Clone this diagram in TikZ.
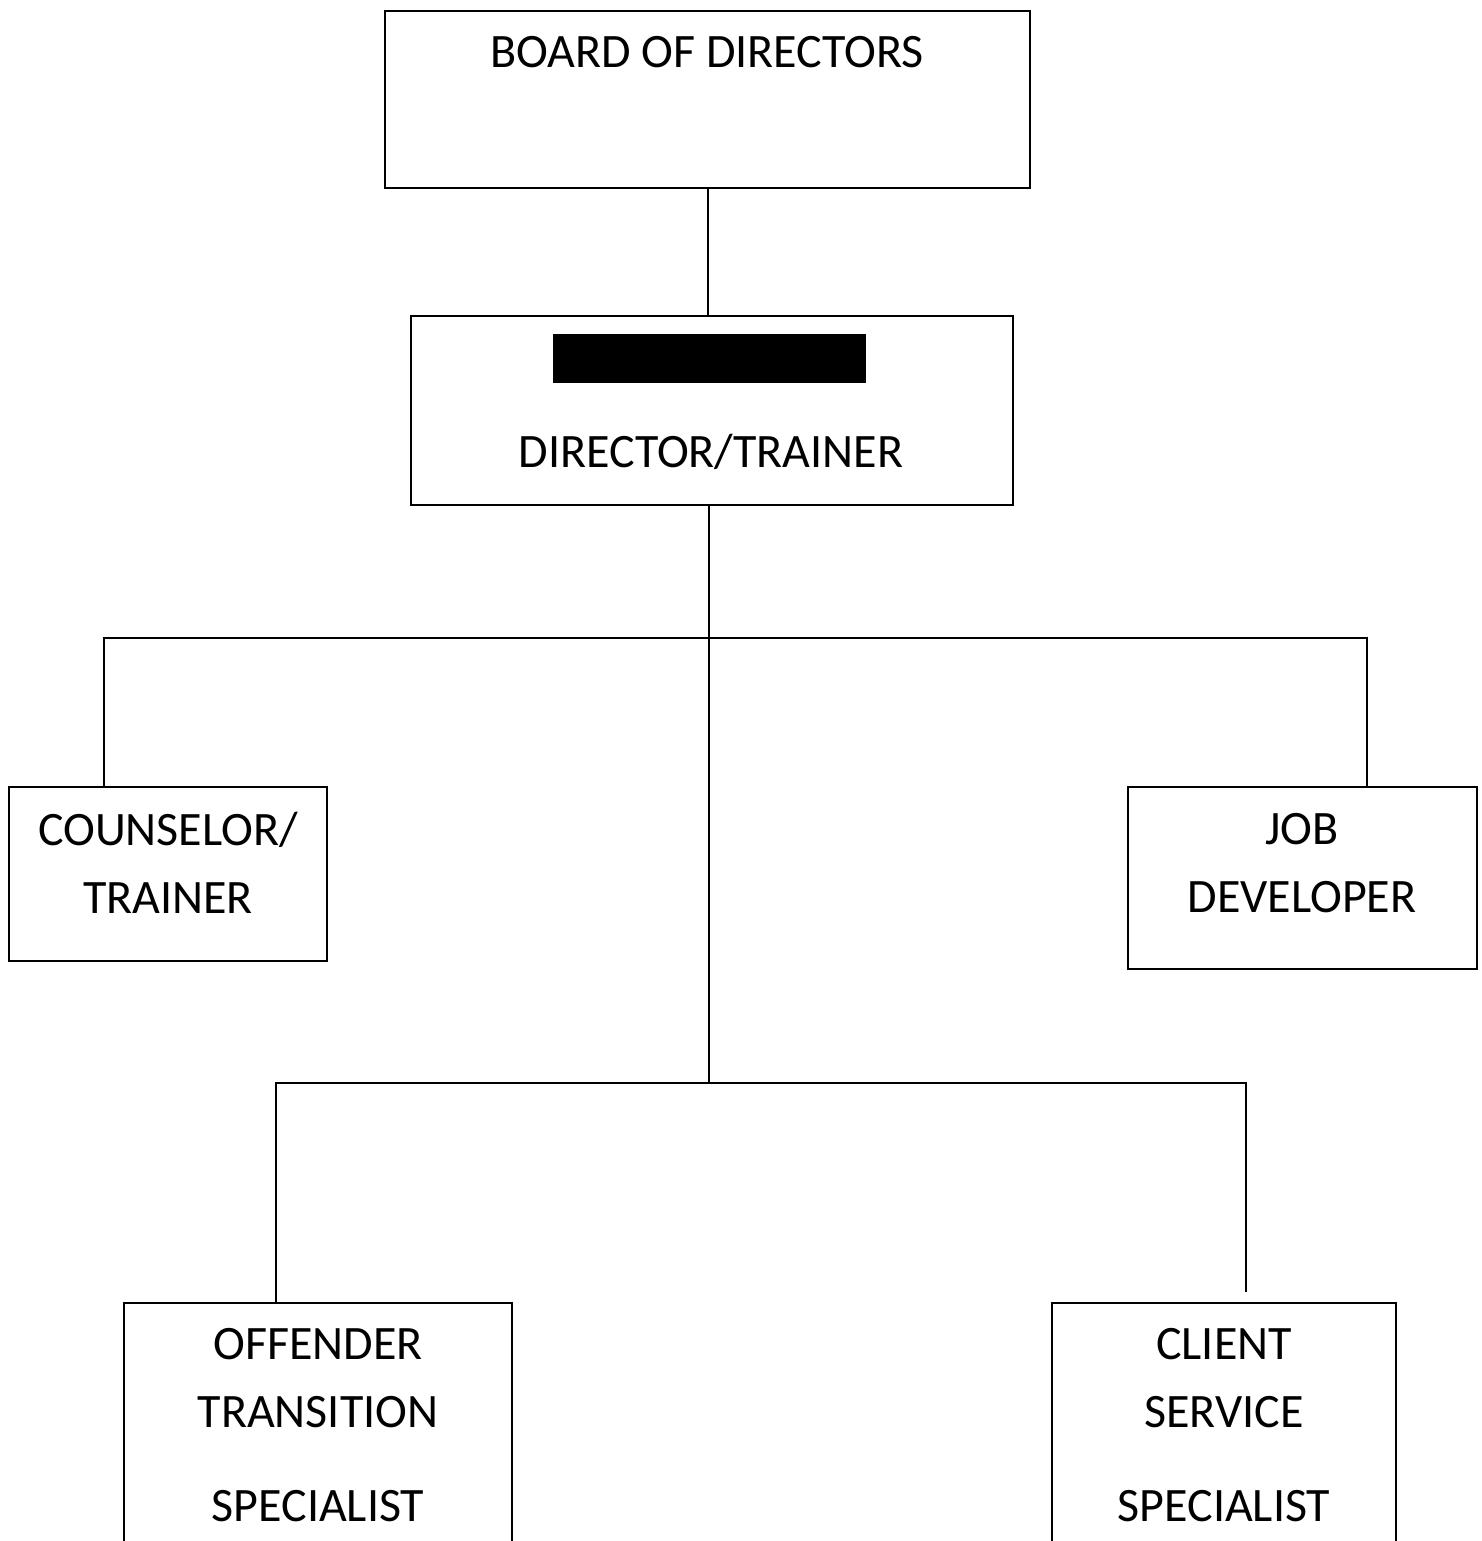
\documentclass[tikz,border=0pt]{standalone}
\usepackage{fontspec}
\setmainfont{Carlito}
\begin{document}
\begin{tikzpicture}[x=1pt,y=-1pt,
  box/.style={draw, rectangle, inner sep=0pt, line width=1.8pt},
  openbox/.style={rectangle, inner sep=0pt},
  lbl/.style={font=\fontsize{48}{68}\selectfont, align=center, inner sep=0pt},
  conn/.style={line width=1.5pt}]
\useasboundingbox (0,0) rectangle (1481,1541);
% boxes
\node[box, minimum width=645pt, minimum height=177pt] (board) at (707.5,99.5) {};
\node[lbl] (boardtxt) at (707,52) {BOARD OF DIRECTORS};
\node[box, minimum width=602pt, minimum height=189pt] (director) at (712,410.5) {};
\node[fill=black, inner sep=0pt, minimum width=313pt, minimum height=49pt] (redact) at (709.5,358.5) {};
\node[lbl] (directortxt) at (711,452) {DIRECTOR/TRAINER};
\node[box, minimum width=318pt, minimum height=174pt] (counselor) at (168,874) {};
\node[lbl] (counselortxt) at (168,863) {COUNSELOR/\\TRAINER};
\node[box, minimum width=349pt, minimum height=182pt] (job) at (1302.5,878) {};
\node[lbl] (jobtxt) at (1302,863) {JOB\\DEVELOPER};
\node[openbox, minimum width=388pt, minimum height=238pt] (offender) at (318,1422) {};
\draw[line width=1.8pt] (offender.south west) -- (offender.north west) -- (offender.north east) -- (offender.south east);
\node[lbl] (offendertxt) at (318,1425.5) {OFFENDER\\TRANSITION\\[26pt]SPECIALIST};
\node[openbox, minimum width=344pt, minimum height=238pt] (client) at (1224,1422) {};
\draw[line width=1.8pt] (client.south west) -- (client.north west) -- (client.north east) -- (client.south east);
\node[lbl] (clienttxt) at (1224,1425.5) {CLIENT\\SERVICE\\[26pt]SPECIALIST};
% connector coordinates
\coordinate (cL) at (104,638);
\coordinate (cR) at (1367,638);
\coordinate (hub) at (709,1083);
\coordinate (bL) at (276,1083);
\coordinate (bR) at (1246,1083);
\coordinate (bRend) at (1246,1292);
% connectors
\draw[conn] (board.south -| 708,0) -- (director.north -| 708,0);
\draw[conn] (director.south -| hub) -- (hub);
\draw[conn] (cL |- counselor.north) -- (cL) -- (cR) -- (cR |- job.north);
\draw[conn] (bL |- offender.north) -- (bL) -- (bR) -- (bRend);
\end{tikzpicture}
\end{document}
